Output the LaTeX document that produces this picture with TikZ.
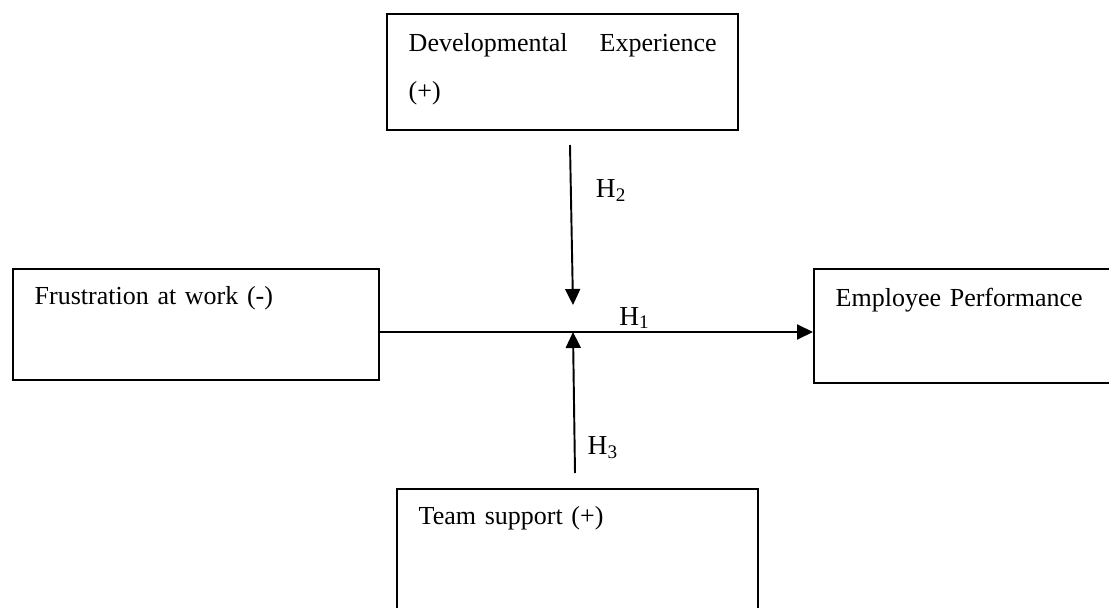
\documentclass[tikz,border=0pt]{standalone}
\usepackage{fontspec}
\setmainfont{Liberation Serif}
\usepackage{tikz}
\usetikzlibrary{arrows.meta}
\tikzset{%
  VarBox/.style={draw,line width=1.4pt,anchor=north west,inner xsep=0.43cm,inner ysep=0pt,
    align=left,font=\fontsize{14.8}{27.3}\selectfont},
  HypArrow/.style={line width=1.1pt,-{Triangle[length=0.32cm,width=0.3cm]}},
  HypLabel/.style={inner sep=0pt,anchor=base west,font=\fontsize{15.6}{18}\selectfont}
}

\begin{document}
\begin{tikzpicture}[x=0.02cm,y=-0.02cm]
  \useasboundingbox (0,0) rectangle (1109,608);
  % the four variables
  \node[VarBox,text width=6.16cm,text height=0.74cm,text depth=1.58cm] (devexp) at (386,13)
    {Developmental\hfill Experience\\(+)};
  \node[VarBox,text width=6.46cm,text height=0.70cm,text depth=1.52cm] (frustr) at (12,268)
    {Frustration at work (-)};
  \node[VarBox,text width=5.38cm,text height=0.74cm,text depth=1.54cm] (emperf) at (813,268)
    {Employee Performance};
  \node[VarBox,text width=6.36cm,text height=0.70cm,text depth=2.04cm] (teamsup) at (396,488)
    {Team support (+)};
  % free ends of the moderating arrows
  \coordinate (junc) at (573,332);
  \coordinate (h2top) at (570,145);
  \coordinate (h2tip) at (573,305);
  \coordinate (h3foot) at (575,473);
  \draw[HypArrow] (frustr.east |- junc) -- (emperf.west |- junc)
    node[HypLabel,pos=0.55,yshift=0.14cm] {H\textsubscript{1}};
  \draw[HypArrow] (h2top) -- (h2tip)
    node[HypLabel,pos=0.33,xshift=0.48cm] {H\textsubscript{2}};
  \draw[HypArrow] (h3foot) -- (junc)
    node[HypLabel,pos=0.13,xshift=0.24cm] {H\textsubscript{3}};
\end{tikzpicture}
\end{document}
